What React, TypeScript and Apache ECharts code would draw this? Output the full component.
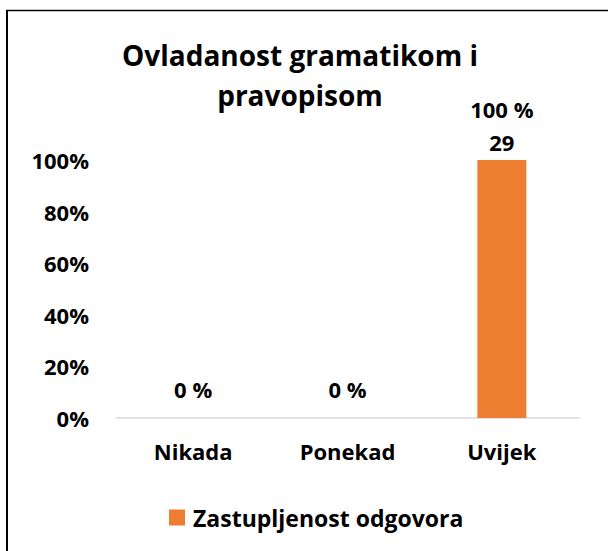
import React, { useEffect, useRef } from "react";
import * as echarts from "echarts";

const categories = ["Nikada", "Ponekad", "Uvijek"];
const percentages = [0, 0, 100];
const counts = [0, 0, 29];
const yTicks = { min: 0, max: 100, interval: 20 };
const seriesName = "Zastupljenost odgovora";
const titleText = "Ovladanost gramatikom i\npravopisom";

const FONT = "Open Sans";

export default function App() {
  const ref = useRef<HTMLDivElement>(null);
  useEffect(() => {
    if (!ref.current) return;
    const chart = echarts.init(ref.current, undefined, { renderer: "svg" });
    chart.setOption({
      animation: false,
      backgroundColor: "#ffffff",
      title: {
        text: titleText,
        left: 300,
        top: 35,
        padding: 0,
        textAlign: "center",
        textStyle: {
          fontFamily: FONT,
          fontWeight: "bold",
          fontSize: 28,
          lineHeight: 40,
          color: "#000",
        },
      },
      legend: {
        data: [seriesName],
        left: 169,
        top: 506,
        padding: 0,
        itemWidth: 16,
        itemHeight: 16,
        icon: "rect",
        textStyle: {
          fontFamily: FONT,
          fontWeight: "bold",
          fontSize: 23,
          color: "#000",
          padding: [0, 0, 0, 3],
        },
      },
      grid: { left: 116, right: 29, top: 160, bottom: 133 },
      xAxis: {
        type: "category",
        data: categories,
        axisLine: { lineStyle: { color: "#d9d9d9", width: 1.5 } },
        axisTick: { show: false },
        axisLabel: {
          margin: 22,
          fontFamily: FONT,
          fontWeight: "bold",
          fontSize: 22,
          color: "#000",
        },
      },
      yAxis: {
        type: "value",
        min: yTicks.min,
        max: yTicks.max,
        interval: yTicks.interval,
        splitLine: { show: false },
        axisLine: { show: false },
        axisTick: { show: false },
        axisLabel: {
          margin: 27,
          formatter: "{value}%",
          fontFamily: FONT,
          fontWeight: "bold",
          fontSize: 22,
          color: "#000",
        },
      },
      series: [
        {
          name: seriesName,
          type: "bar",
          barWidth: 49,
          itemStyle: { color: "#ED7D31" },
          data: percentages.map((v, i) => ({
            value: v,
            label: { distance: counts[i] > 0 ? 2 : 13 },
          })),
          label: {
            show: true,
            position: "top",
            fontFamily: FONT,
            fontWeight: "bold",
            fontSize: 22,
            lineHeight: 33,
            color: "#000",
            formatter: (p: any) =>
              p.value + " %" + (counts[p.dataIndex] > 0 ? "\n" + counts[p.dataIndex] : ""),
          },
        },
      ],
      graphic: [
        {
          type: "line",
          shape: { x1: 7, y1: 10, x2: 7, y2: 551 },
          style: { stroke: "#000", lineWidth: 2 },
        },
        {
          type: "line",
          shape: { x1: 6, y1: 10.5, x2: 608, y2: 10.5 },
          style: { stroke: "#000", lineWidth: 1.5 },
        },
      ],
    });
    return () => chart.dispose();
  }, []);
  return (
    <div
      ref={ref}
      style={{ position: "fixed", left: 0, top: 0, width: 608, height: 551 }}
    />
  );
}
